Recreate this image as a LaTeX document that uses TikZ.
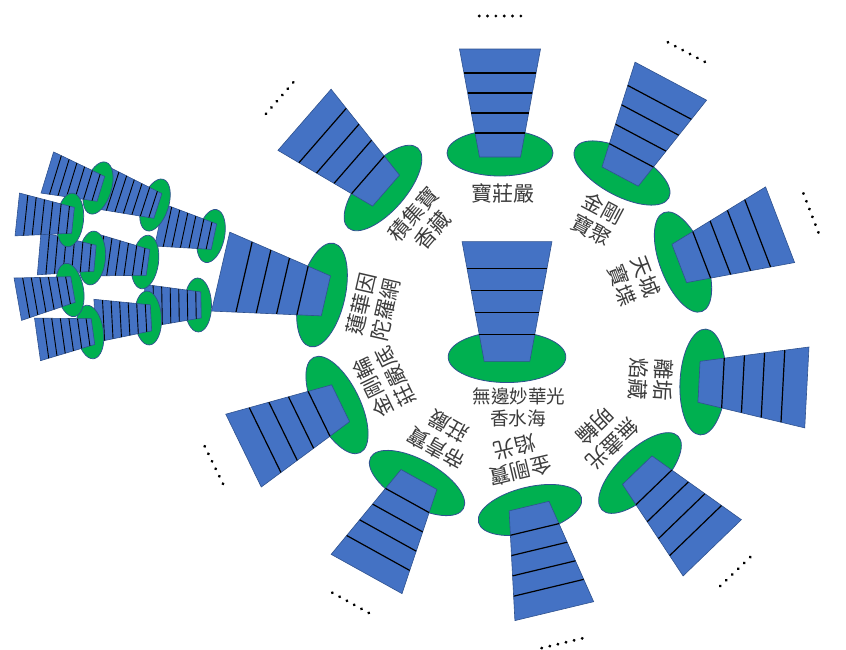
\documentclass[tikz,border=0pt]{standalone}
\usepackage{fontspec}
\newfontfamily\cjk{Noto Sans CJK TC}
\definecolor{petal}{HTML}{4472C4}
\definecolor{rim}{HTML}{2F528F}
\definecolor{leaf}{HTML}{00B050}
\definecolor{ink}{HTML}{3C3C3C}
\tikzset{
  leafshape/.style={fill=leaf, draw=rim, line width=0.8pt},
  petalshape/.style={fill=petal, draw=rim, line width=0.6pt},
  stripe/.style={draw=black, line width=1.2pt},
  smallstripe/.style={draw=black, line width=0.9pt},
  lbl/.style={font=\cjk\fontsize{21}{25}\selectfont, text=ink, inner sep=0pt, transform shape},
  centrelbl/.style={font=\cjk\fontsize{18.6}{22}\selectfont, text=ink, inner sep=0pt},
  dotmark/.style={fill=black}
}
\newcommand\bigbloom{%
  \path[leafshape] (0,0) ellipse [x radius=53pt, y radius=23pt];
  \path[petalshape] (-20.5,4) -- (20.5,4) -- (40.5,-104) -- (-40.5,-104) -- cycle;
  \draw[stripe] (-24.9,-20) -- (24.9,-20);
  \draw[stripe] (-28.6,-40) -- (28.6,-40);
  \draw[stripe] (-32.3,-60) -- (32.3,-60);
  \draw[stripe] (-36.0,-80) -- (36.0,-80);
}
\newcommand\outerflower[6]{%
  \begin{scope}[shift={(#2,#3)}, rotate=#4]
    \bigbloom
    \node[lbl] (#1-a) at (0,40) {#5};
    \node[lbl] (#1-b) at (0,65) {#6};
  \end{scope}}
\newcommand\rimdots[3]{%
  \begin{scope}[shift={(#1,#2)}, rotate=#3]
    \foreach \i in {0,...,5} \fill[dotmark] (-20.8+8.33*\i,-137) circle[radius=1.6pt];
  \end{scope}}
\newcommand\budflower[3]{%
  \begin{scope}[shift={(#1,#2)}, rotate=#3]
    \path[leafshape, line width=0.7pt] (0,0) ellipse [x radius=27pt, y radius=13.5pt];
    \path[petalshape] (-13,3) -- (13,3) -- (21.5,-53) -- (-21.5,-53) -- cycle;
    \foreach \yy in {-2,-10.5,-19,-27.5,-36,-44.5} {
      \pgfmathsetmacro\hw{13+(3-(\yy))/56*8.5}
      \draw[smallstripe] (-\hw,\yy) -- (\hw,\yy);
    }
  \end{scope}}
\begin{document}
\begin{tikzpicture}[x=1pt,y=-1pt]
\useasboundingbox (0,0) rectangle (846,649);
\fill[white] (0,0) rectangle (846,649);

% left cluster of small flowers (right ones first)
\budflower{211}{236}{78}
\budflower{198}{305}{91}
\budflower{155}{205}{72}
\budflower{148}{318}{93}
\budflower{145}{262}{82}
\budflower{98}{188}{73}
\budflower{92}{258}{85}
\budflower{90}{332}{98}
\budflower{70}{220}{84}
\budflower{70}{290}{100}

% central flower
\begin{scope}[shift={(507,357)}, scale=1.11]
  \bigbloom
\end{scope}
\node[centrelbl] (centre-a) at (519,396) {無邊妙華光};
\node[centrelbl] (centre-b) at (518,418) {香水海};

% surrounding flowers
\begin{scope}[shift={(500,153)}]
  \bigbloom
  \node[lbl] (f1-a) at (3,40) {寶莊嚴};
\end{scope}
\outerflower{f2}{622}{173}{-28}{金剛}{寶聚}
\outerflower{f3}{683}{262}{-69}{天城}{寶堞}
\outerflower{f4}{703}{382}{-93}{離垢}{焰藏}
\outerflower{f5}{640}{473}{-136}{無盡光}{明輪}
\outerflower{f6}{530}{510}{-166.5}{金剛寶}{焰光}
\outerflower{f7}{417}{483}{151}{帝青寶}{莊嚴}
\outerflower{f8}{337}{405}{116}{金剛輪}{莊嚴底}
\outerflower{f9}{322}{295}{77}{蓮華因}{陀羅網}
\outerflower{f10}{383}{188}{49}{積集寶}{香藏}

% dots
\rimdots{500}{153}{0}
\rimdots{622}{173}{-28}
\rimdots{683}{262}{-69}
\rimdots{640}{473}{-136}
\rimdots{530}{510}{-166.5}
\rimdots{417}{483}{151}
\rimdots{337}{405}{116}
\rimdots{383}{188}{49}
\end{tikzpicture}
\end{document}
